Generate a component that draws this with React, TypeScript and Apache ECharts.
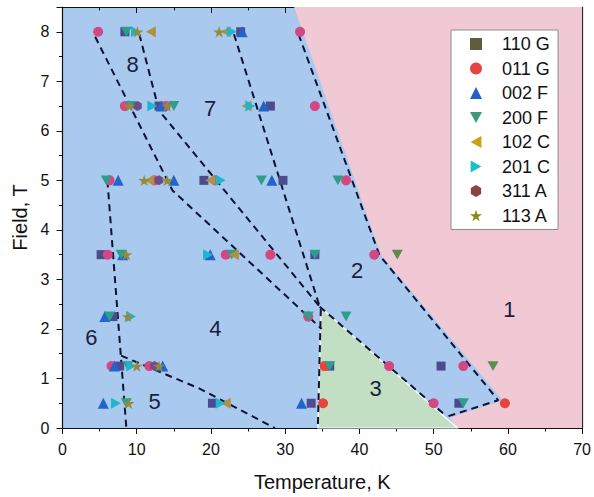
import React, { useEffect, useRef } from "react";
import * as echarts from "echarts";

// ---- axis ranges ----
const X_MIN = 0;
const X_MAX = 70;
const X_STEP = 10;
const Y_MIN = 0;
const Y_MAX = 8.5;
const Y_STEP = 1;

// ---- measured points [temperature K, field T] ----
const S_110G = [[8.4, 8], [24.0, 8], [13.0, 6.5], [28.0, 6.5], [19.05, 5], [29.7, 5], [5.2, 3.5], [34.0, 3.5], [6.8, 2.25], [7.7, 1.25], [36.0, 1.25], [51.0, 1.25], [20.2, 0.5], [33.5, 0.5], [53.4, 0.5]];
const S_011G = [[4.8, 8], [32.0, 8], [8.4, 6.5], [13.9, 6.5], [34.0, 6.5], [6.35, 5], [12.4, 5], [20.6, 5], [38.2, 5], [6.1, 3.5], [22.0, 3.5], [28.0, 3.5], [42.0, 3.5], [33.1, 2.25], [6.6, 1.25], [11.7, 1.25], [35.3, 1.25], [44.0, 1.25], [54.0, 1.25], [35.1, 0.5], [50.0, 0.5], [59.6, 0.5]];
const S_002F = [[24.2, 8], [13.3, 6.5], [27.1, 6.5], [7.5, 5], [15.0, 5], [28.2, 5], [8.1, 3.5], [19.9, 3.5], [5.7, 2.25], [7.0, 1.25], [13.5, 1.25], [5.5, 0.5], [32.2, 0.5]];
const S_200F = [[8.6, 8], [9.25, 6.5], [15.0, 6.5], [5.9, 5], [26.8, 5], [37.1, 5], [7.9, 3.5], [22.8, 3.5], [34.0, 3.5], [45.1, 3.5], [6.35, 2.25], [33.1, 2.25], [38.2, 2.25], [8.8, 1.25], [36.0, 1.25], [58.0, 1.25], [8.6, 0.5], [54.0, 0.5]];
const S_102C = [[11.9, 8], [22.0, 8], [24.8, 6.5], [11.7, 5], [19.9, 5], [23.1, 3.5], [22.0, 0.5]];
const S_201C = [[9.9, 8], [22.8, 8], [12.1, 6.5], [25.3, 6.5], [21.3, 5], [19.6, 3.5], [9.25, 2.25], [9.25, 1.25], [7.2, 0.5], [21.3, 0.5]];
const S_311A = [[10.1, 6.5], [13.0, 5], [12.4, 1.25]];
const S_113A = [[10.1, 8], [21.1, 8], [9.0, 6.5], [14.1, 6.5], [11.0, 5], [14.1, 5], [8.6, 3.5], [8.8, 2.25], [10.0, 1.25], [13.0, 1.25], [8.9, 0.5]];

// ---- phase regions ----
const PINK_REGION = [[31.2, 8.5], [42.9, 3.5], [59.3, 0.56], [52.1, 0.2], [53.2, 0], [70, 0], [70, 8.5]];
const GREEN_REGION = [[34.85, 2.42], [34.4, 0], [53.2, 0]];

// ---- dashed phase boundaries ----
const BOUNDARIES = [
  [[31.8, 7.95], [42.7, 3.49], [58.7, 0.56], [51.8, 0.23]],
  [[4.4, 7.9], [14.8, 4.8], [34.9, 2.0]],
  [[10.35, 7.95], [13.0, 6.41], [34.65, 2.45]],
  [[23.1, 7.95], [34.65, 2.45]],
  [[34.65, 2.45], [51.8, 0.23]],
  [[34.8, 2.4], [34.4, 0]],
  [[6.05, 5.0], [8.6, 0]],
  [[7.9, 1.46], [18.4, 0.8], [28.6, 0]],
];

// ---- region numbers ----
const REGION_LABELS: [number, number, string][] = [
  [60.2, 2.4, "1"],
  [39.7, 3.17, "2"],
  [42.2, 0.79, "3"],
  [20.6, 2.0, "4"],
  [12.4, 0.53, "5"],
  [3.9, 1.83, "6"],
  [19.9, 6.46, "7"],
  [9.46, 7.33, "8"],
];

const FONT = "Arial, 'Liberation Sans', sans-serif";
const STAR = "path://M50,0 L61,35 L98,35 L68,57 L79,91 L50,70 L21,91 L32,57 L2,35 L39,35 Z";
const HEX = "path://M50,0 L93,25 L93,75 L50,100 L7,75 L7,25 Z";
const TRI_DOWN = "path://M0,0 L100,0 L50,90 Z";
const TRI_LEFT = "path://M90,0 L90,100 L0,50 Z";
const TRI_RIGHT = "path://M0,0 L0,100 L90,50 Z";

function inside(p: number[], poly: number[][]) {
  let c = false;
  for (let i = 0, j = poly.length - 1; i < poly.length; j = i++) {
    const [xi, yi] = poly[i];
    const [xj, yj] = poly[j];
    if (yi > p[1] !== yj > p[1] && p[0] < ((xj - xi) * (p[1] - yi)) / (yj - yi) + xi) c = !c;
  }
  return c;
}

export default function App() {
  const ref = useRef<HTMLDivElement>(null);
  useEffect(() => {
    document.body.style.margin = "0";
    if (!ref.current) return;
    const chart = echarts.init(ref.current, undefined, { renderer: "svg" });

    const scatter = (name: string, data: number[][], symbol: string, size: number, color: any) => ({
      name,
      type: "scatter",
      data,
      symbol,
      symbolSize: size,
      symbolKeepAspect: true,
      itemStyle: { color, opacity: 1 },
      z: 5,
      silent: true,
    });

    const lines = BOUNDARIES.map((pts) => ({
      type: "line",
      data: pts,
      showSymbol: false,
      symbol: "none",
      silent: true,
      z: 3,
      lineStyle: { color: "#0e1232", width: 2, type: [7, 5] },
    }));

    const option: any = {
      animation: false,
      grid: {
        left: 62.5,
        right: 7.5,
        top: 7,
        bottom: 67.5,
        show: true,
        backgroundColor: "#a9c9ee",
        borderWidth: 0,
      },
      xAxis: [
        {
          type: "value",
          min: X_MIN,
          max: X_MAX,
          interval: X_STEP,
          position: "bottom",
          name: "Temperature, K",
          nameLocation: "middle",
          nameGap: 44,
          nameTextStyle: { fontSize: 20, color: "#111", fontFamily: FONT },
          axisLine: { show: true, lineStyle: { color: "#111", width: 1.2 } },
          axisTick: { show: true, inside: false, length: 6, lineStyle: { color: "#111" } },
          minorTick: { show: true, splitNumber: 2, length: 3.5, lineStyle: { color: "#111" } },
          axisLabel: { fontSize: 16, color: "#111", margin: 13, fontFamily: FONT },
          splitLine: { show: false },
        },
        {
          type: "value",
          min: X_MIN,
          max: X_MAX,
          interval: X_STEP,
          position: "top",
          axisLine: { show: true, onZero: false, lineStyle: { color: "#111", width: 1.2 } },
          axisTick: { show: true, inside: true, length: 6, lineStyle: { color: "#111" } },
          minorTick: { show: true, splitNumber: 2, length: 3.5, lineStyle: { color: "#111" } },
          axisLabel: { show: false },
          splitLine: { show: false },
        },
      ],
      yAxis: [
        {
          type: "value",
          min: Y_MIN,
          max: Y_MAX,
          interval: Y_STEP,
          position: "left",
          name: "Field, T",
          nameLocation: "middle",
          nameGap: 33,
          nameTextStyle: { fontSize: 20, color: "#111", fontFamily: FONT },
          axisLine: { show: true, lineStyle: { color: "#111", width: 1.2 } },
          axisTick: { show: true, inside: false, length: 6, lineStyle: { color: "#111" } },
          minorTick: { show: true, splitNumber: 2, length: 3.5, lineStyle: { color: "#111" } },
          axisLabel: { fontSize: 16, color: "#111", margin: 13, fontFamily: FONT, showMaxLabel: false },
          splitLine: { show: false },
        },
        {
          type: "value",
          min: Y_MIN,
          max: Y_MAX,
          interval: Y_STEP,
          position: "right",
          axisLine: { show: true, onZero: false, lineStyle: { color: "#111", width: 1.2 } },
          axisTick: { show: true, inside: true, length: 6, lineStyle: { color: "#111" } },
          minorTick: { show: true, splitNumber: 2, length: 3.5, lineStyle: { color: "#111" } },
          axisLabel: { show: false },
          splitLine: { show: false },
        },
      ],
      legend: {
        orient: "vertical",
        left: 451,
        top: 30,
        padding: [5, 8, 5, 19],
        itemWidth: 12,
        itemHeight: 12,
        itemGap: 6.5,
        backgroundColor: "#ffffff",
        borderColor: "#8c8c8c",
        borderWidth: 1,
        borderRadius: 0,
        textStyle: { fontSize: 18, color: "#111", fontFamily: FONT, padding: [0, 0, 0, 15] },
        data: [
          { name: "110 G", itemStyle: { color: "#5c5c3e" } },
          { name: "011 G", itemStyle: { color: "#e84343" } },
          { name: "002 F", itemStyle: { color: "#2060c8" } },
          { name: "200 F", itemStyle: { color: "#3a9a7a" } },
          { name: "102 C", itemStyle: { color: "#c8a014" } },
          { name: "201 C", itemStyle: { color: "#18c0c8" } },
          { name: "311 A", itemStyle: { color: "#8b4444" } },
          { name: "113 A", itemStyle: { color: "#8a8a10" } },
        ],
      },
      series: [
        {
          type: "custom",
          silent: true,
          z: 1,
          data: [[0, 0]],
          renderItem: (_params: any, api: any) => {
            const poly = (pts: number[][], fill: string, stroke?: string) => ({
              type: "polygon",
              shape: { points: pts.map((p) => api.coord(p)) },
              style: { fill, stroke: stroke || "none", lineWidth: stroke ? 1.2 : 0 },
            });
            return {
              type: "group",
              children: [poly(PINK_REGION, "#f1c9d4"), poly(GREEN_REGION, "#c2dfc3", "#ffffff")],
            };
          },
        },
        ...lines,
        {
          type: "custom",
          silent: true,
          z: 4,
          data: REGION_LABELS.map((r) => [r[0], r[1]]),
          renderItem: (params: any, api: any) => {
            const r = REGION_LABELS[params.dataIndex];
            const [x, y] = api.coord([r[0], r[1]]);
            return {
              type: "text",
              x,
              y,
              style: {
                text: r[2],
                fill: "#1c1c3e",
                fontSize: 22,
                fontFamily: FONT,
                align: "center",
                verticalAlign: "middle",
              },
            };
          },
        },
        scatter("110 G", S_110G, "rect", 9, "#4b4b8d"),
        scatter("011 G", S_011G, "circle", 10, (p: any) =>
          inside(p.value, PINK_REGION) || inside(p.value, GREEN_REGION) ? "#e8443f" : "#d24784"
        ),
        scatter("002 F", S_002F, "triangle", 11, "#2263cc"),
        scatter("200 F", S_200F, TRI_DOWN, 11, (p: any) => (inside(p.value, PINK_REGION) ? "#5c8c52" : "#2e9e8c")),
        scatter("102 C", S_102C, TRI_LEFT, 11, "#b39040"),
        scatter("201 C", S_201C, TRI_RIGHT, 11, "#1eb6cc"),
        scatter("311 A", S_311A, HEX, 10, "#6e4c8c"),
        scatter("113 A", S_113A, STAR, 12, "#948a3c"),
      ],
    };

    chart.setOption(option);
    return () => chart.dispose();
  }, []);

  return <div ref={ref} style={{ width: 594, height: 497 }} />;
}
